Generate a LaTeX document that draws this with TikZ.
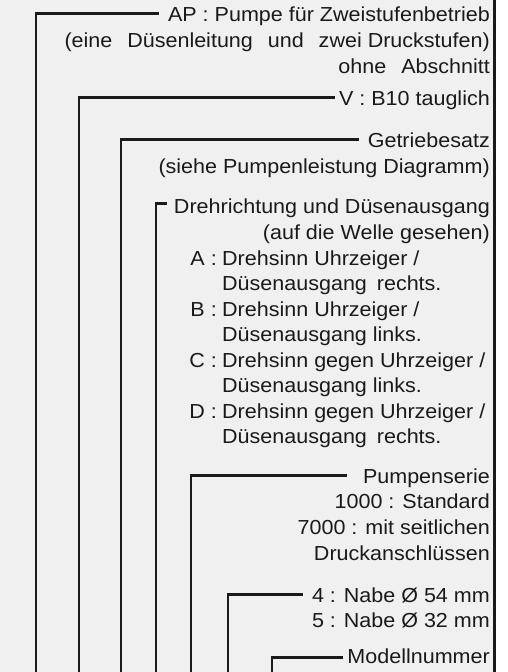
\documentclass[tikz,border=0pt]{standalone}
\usepackage{fontspec}
\setmainfont[FakeStretch=1.06]{Liberation Sans}
\definecolor{paper}{HTML}{F0F0F0}
\definecolor{ink}{HTML}{1A1A1A}
\newcommand{\wsp}{\hspace{9pt}}
\tikzset{
    lbl/.style={anchor=base east,inner sep=0pt,text height=15pt,text depth=0pt,text=ink,font=\fontsize{20.3}{26}\selectfont},
    item/.style={lbl,anchor=base west},
    lead/.style={draw=ink,line width=2.8pt},
}
\begin{document}
\begin{tikzpicture}[x=1pt,y=-1pt]
    \useasboundingbox (0,0) rectangle (508,672);
    \fill[white] (0,0) rectangle (508,672);
    \fill[paper] (0,0) rectangle (494,672);
    \draw[ink,line width=2.4pt] (494.5,0) -- (494.5,672);
    \node[lbl] (ap) at (490,21) {AP : Pumpe für Zweistufenbetrieb};
    \node[lbl] (ap2) at (490,47) {(eine\wsp{} Düsenleitung\wsp{} und\wsp{} zwei Druckstufen)};
    \node[lbl] (ap3) at (490,73) {ohne\wsp{} Abschnitt};
    \node[lbl] (v) at (490,105) {V : B10 tauglich};
    \node[lbl] (gs) at (490,147) {Getriebesatz};
    \node[lbl] (gs2) at (490,173) {(siehe Pumpenleistung Diagramm)};
    \node[lbl] (dr) at (490,213) {Drehrichtung und Düsenausgang};
    \node[lbl] (dr2) at (490,239) {(auf die Welle gesehen)};
    \node[lbl] (ka) at (217,265) {A :};
    \node[item] (ta) at (222,265) {Drehsinn Uhrzeiger /};
    \node[item] (ta2) at (222,290) {Düsenausgang\hspace{4pt} rechts.};
    \node[lbl] (kb) at (217,316) {B :};
    \node[item] (tb) at (222,316) {Drehsinn Uhrzeiger /};
    \node[item] (tb2) at (222,341) {Düsenausgang links.};
    \node[lbl] (kc) at (217,367) {C :};
    \node[item] (tc) at (222,367) {Drehsinn gegen Uhrzeiger /};
    \node[item] (tc2) at (222,392) {Düsenausgang links.};
    \node[lbl] (kd) at (217,418) {D :};
    \node[item] (td) at (222,418) {Drehsinn gegen Uhrzeiger /};
    \node[item] (td2) at (222,443) {Düsenausgang\hspace{4pt} rechts.};
    \node[lbl] (ps) at (490,483) {Pumpenserie};
    \node[lbl] (ps2) at (490,508) {1000 : Standard};
    \node[lbl] (ps3) at (490,534) {7000 : mit seitlichen};
    \node[lbl] (ps4) at (490,560) {Druckanschlüssen};
    \node[lbl] (nb) at (490,602) {4 : Nabe Ø 54 mm};
    \node[lbl] (nb2) at (490,627) {5 : Nabe Ø 32 mm};
    \node[lbl] (mn) at (490,663) {Modellnummer};
    \coordinate (apb) at (36,676);
    \coordinate (vb) at (79,676);
    \coordinate (gsb) at (121,676);
    \coordinate (drb) at (156,676);
    \coordinate (psb) at (191,676);
    \coordinate (nbb) at (228,676);
    \coordinate (mnb) at (272,676);
    \draw[lead] ([xshift=-9pt]ap.west) -| (apb);
    \draw[lead] ([xshift=-4pt]v.west) -| (vb);
    \draw[lead] ([xshift=-9pt]gs.west) -| (gsb);
    \draw[lead] ([xshift=-7pt,yshift=2pt]dr.west) -| (drb);
    \draw[lead] ([xshift=-16pt]ps.west) -| (psb);
    \draw[lead] ([xshift=-9pt]nb.west) -| (nbb);
    \draw[lead] ([xshift=-4pt,yshift=-2pt]mn.west) -| (mnb);
\end{tikzpicture}
\end{document}
